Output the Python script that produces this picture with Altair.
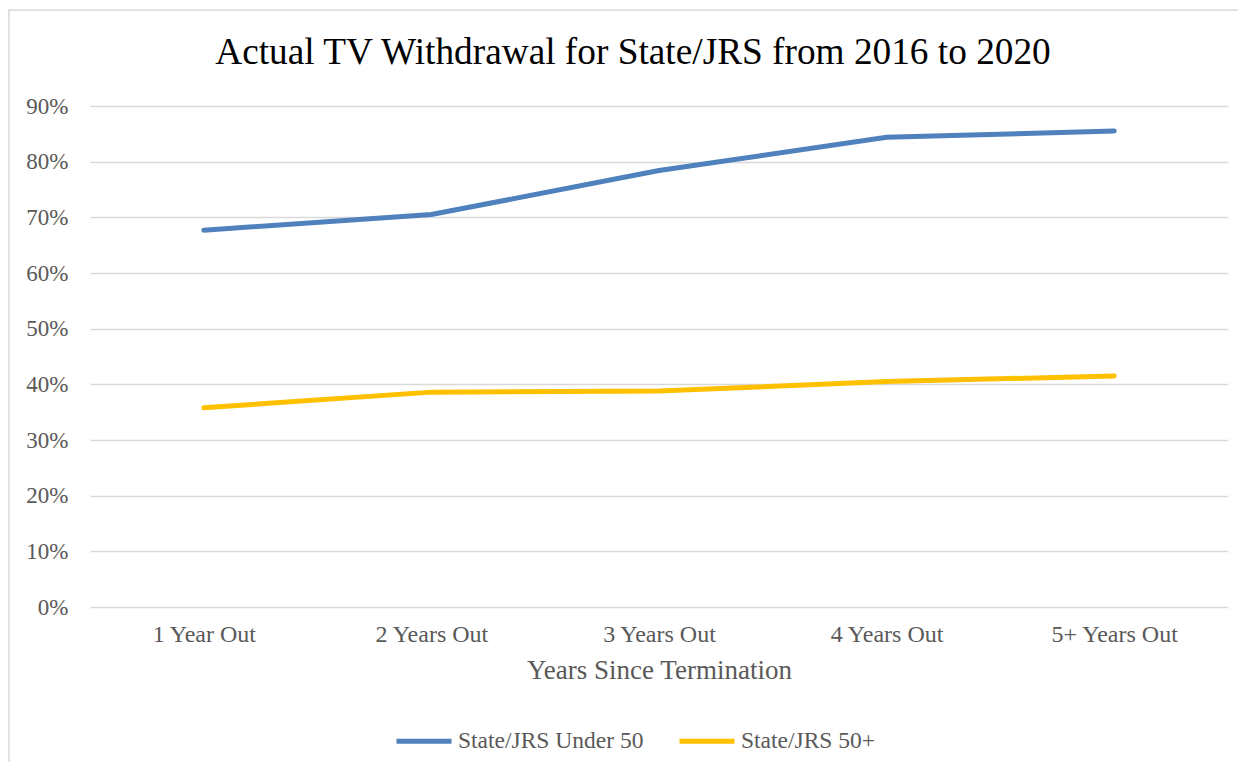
import altair as alt
import pandas as pd

categories = ["1 Year Out", "2 Years Out", "3 Years Out", "4 Years Out", "5+ Years Out"]
under50 = [0.677, 0.705, 0.784, 0.844, 0.855]
over50 = [0.358, 0.386, 0.388, 0.405, 0.415]
series_names = ["State/JRS Under 50", "State/JRS 50+"]
colors = ["#4F81BD", "#FFC000"]
title_text = "Actual TV Withdrawal for State/JRS from 2016 to 2020"

rows = []
for c, v in zip(categories, under50):
    rows.append({"cat": c, "val": v, "series": series_names[0]})
for c, v in zip(categories, over50):
    rows.append({"cat": c, "val": v, "series": series_names[1]})
df = pd.DataFrame(rows)

FONT = "Liberation Serif"
W, H = 1138, 501

border = alt.Chart(pd.DataFrame({"a": [0]})).mark_rect(
    fill=None, stroke="#D9D9D9", strokeWidth=1.5, clip=False
).encode(
    x=alt.value(-81), x2=alt.value(1154), y=alt.value(-96), y2=alt.value(700)
)

title = alt.Chart(pd.DataFrame({"t": [title_text]})).mark_text(
    font=FONT, fontSize=37.3, color="#000000", align="center", baseline="alphabetic", clip=False
).encode(
    text="t:N", x=alt.value(543), y=alt.value(-42)
)

lines = alt.Chart(df).mark_line(strokeWidth=5, strokeCap="round").encode(
    x=alt.X("cat:N", sort=categories, scale=alt.Scale(type="point", padding=0.5),
            axis=alt.Axis(title="Years Since Termination", labelAngle=0, domain=False,
                          ticks=False, grid=False, labelPadding=15, titlePadding=11,
                          labelFontSize=24)),
    y=alt.Y("val:Q", scale=alt.Scale(domain=[0, 0.9], nice=False),
            axis=alt.Axis(format=".0%", values=[i / 10 for i in range(10)], domain=False,
                          ticks=False, labelPadding=22, title=None, labelFontSize=23)),
    color=alt.Color("series:N", sort=series_names,
                    scale=alt.Scale(domain=series_names, range=colors),
                    legend=alt.Legend(title=None, orient="none", direction="horizontal",
                                      legendX=304, legendY=605, symbolType="stroke",
                                      symbolSize=3025, symbolStrokeWidth=5,
                                      labelFontSize=23.5, labelFont=FONT, labelColor="#595959",
                                      labelLimit=400, columnPadding=25, labelOffset=4)),
)

chart = alt.layer(border, title, lines).properties(
    width=W, height=H,
    autosize=alt.AutoSizeParams(type="none"),
    padding={"left": 82, "top": 98, "right": 10, "bottom": 155},
).configure_view(stroke=None).configure_axis(
    labelFont=FONT, labelColor="#595959",
    titleFont=FONT, titleFontSize=27, titleColor="#595959", titleFontWeight="normal",
    gridColor="#D9D9D9", gridWidth=1.5,
)

chart.save("out.html", embed_options={"renderer": "svg", "actions": False})
